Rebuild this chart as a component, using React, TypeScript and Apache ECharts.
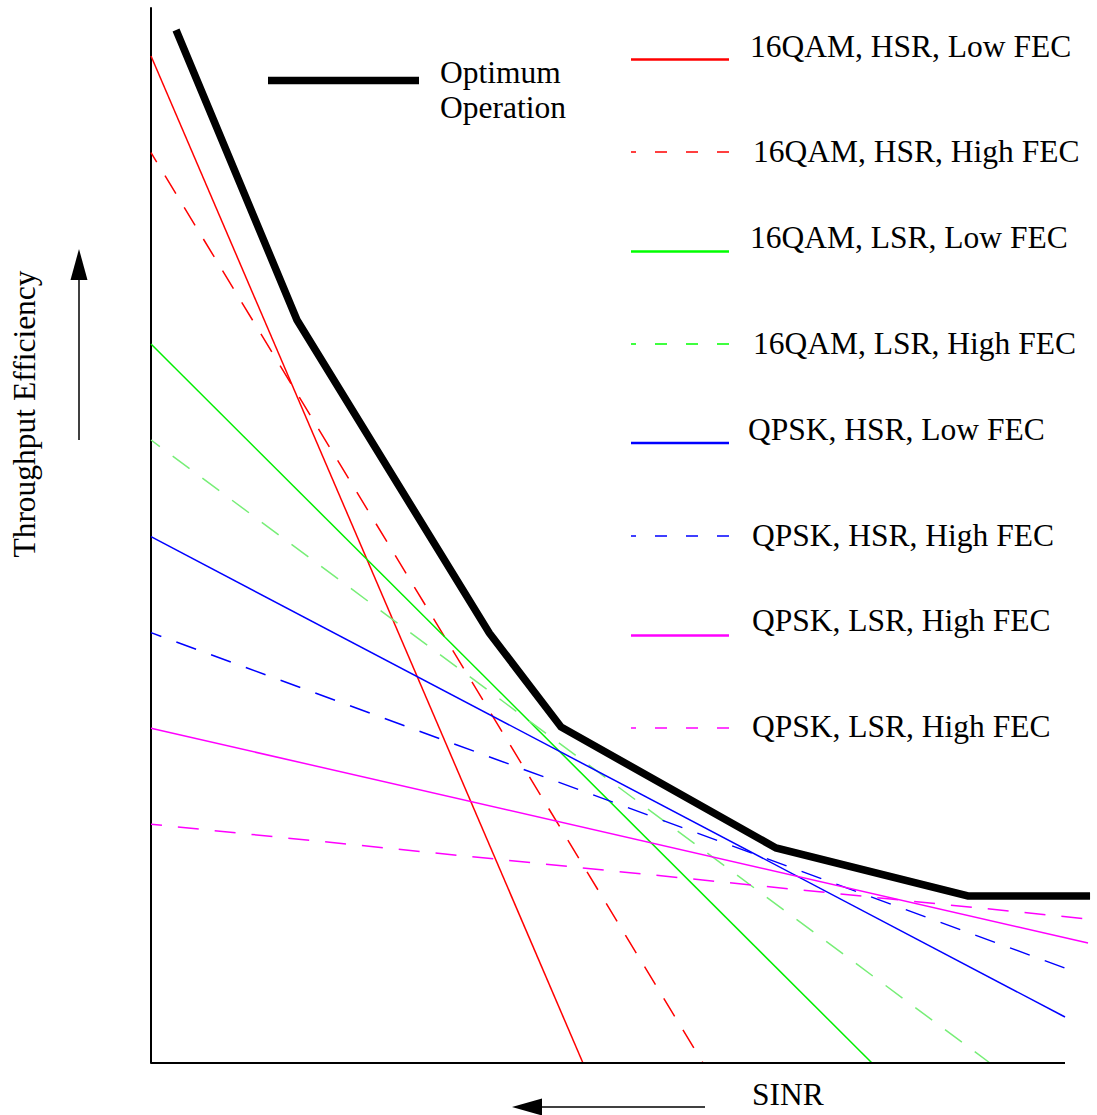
import { useEffect, useRef } from "react";
import * as echarts from "echarts";

// ---- data (abstract units: x 0..100 SINR, y 0..100 throughput efficiency) ----
const seriesNames = [
  "16QAM, HSR, Low FEC",
  "16QAM, HSR, High FEC",
  "16QAM, LSR, Low FEC",
  "16QAM, LSR, High FEC",
  "QPSK, HSR, Low FEC",
  "QPSK, HSR, High FEC",
  "QPSK, LSR, High FEC",
  "QPSK, LSR, High FEC",
];
const startY = [95.45, 86.29, 68.15, 59.05, 49.89, 40.79, 31.73, 22.63];
const endX = [47.26, 60.39, 78.88, 91.79, 100, 100, 102.52, 102.52];
const endY = [0, 0, 0, 0, 4.36, 9.0, 11.37, 13.65];

const optimumName = "Optimum Operation";
const optimumX = [2.74, 15.97, 37.01, 44.86, 68.38, 89.39, 102.74];
const optimumY = [97.91, 70.43, 40.76, 31.85, 20.38, 15.83, 15.83];

const axisXEnd = 100; // x axis line drawn from 0 to here
const xMax = 102.8; // drawing area extends a little past the axis end

const xAxisName = "SINR";
const yAxisName = "Throughput Efficiency";

// ---- styles ----
const lineColors = ["#ff0000", "#ff0000", "#00ff00", "#00ff00", "#0000ff", "#0000ff", "#ff00ff", "#ff00ff"];
const plotColors = ["#ff0000", "#ff0000", "#00ee00", "#77ee77", "#0000ff", "#0000ff", "#ff00ff", "#ff00ff"];
const dashed = [false, true, false, true, false, true, false, true];

const FONT = "'Liberation Serif', 'Times New Roman', serif";
const FS = 31.5;

const legendLineY = [59.5, 152, 251.5, 344, 443, 536, 635.5, 728];
const legendTextY = [46, 151, 237, 343, 429, 535, 620, 726];
const legendTextX = [750, 753, 750, 753, 748, 752, 752, 752];

export default function App() {
  const ref = useRef<HTMLDivElement>(null);

  useEffect(() => {
    document.body.style.margin = "0";
    if (!ref.current) return;
    const chart = echarts.init(ref.current, undefined, { renderer: "svg" });

    const series: any[] = seriesNames.map((name, i) => ({
      name,
      type: "line",
      data: [
        [0, startY[i]],
        [endX[i], endY[i]],
      ],
      symbol: "none",
      clip: false,
      silent: true,
      z: 2,
      lineStyle: {
        color: plotColors[i],
        width: 1.5,
        type: dashed[i] ? [21, 16] : "solid",
        dashOffset: dashed[i] ? 10 : 0,
      },
    }));
    // x axis line (0 .. axisXEnd)
    series.push({
      name: "x-axis",
      type: "line",
      data: [
        [0, 0],
        [axisXEnd, 0],
      ],
      symbol: "none",
      clip: false,
      silent: true,
      z: 4,
      lineStyle: { color: "#000", width: 2 },
    });
    series.push({
      name: optimumName,
      type: "line",
      data: optimumX.map((x, i) => [x, optimumY[i]]),
      symbol: "none",
      clip: false,
      silent: true,
      z: 5,
      lineStyle: { color: "#000", width: 7.5, cap: "butt", join: "miter" },
    });

    const graphic: any[] = [];
    seriesNames.forEach((name, i) => {
      graphic.push({
        type: "line",
        shape: { x1: 631, y1: legendLineY[i], x2: 729, y2: legendLineY[i] },
        style: {
          stroke: lineColors[i],
          lineWidth: dashed[i] ? 1.5 : 2.3,
          lineDash: dashed[i] ? [12, 19] : null,
          lineDashOffset: dashed[i] ? 7 : 0,
        },
      });
      graphic.push({
        type: "text",
        x: legendTextX[i],
        y: legendTextY[i],
        style: {
          text: name,
          font: `${FS}px ${FONT}`,
          fill: "#000",
          align: "left",
          verticalAlign: "middle",
        },
      });
    });
    // optimum legend
    graphic.push({
      type: "line",
      shape: { x1: 268, y1: 80.5, x2: 419, y2: 80.5 },
      style: { stroke: "#000", lineWidth: 7.5 },
    });
    const optWords = optimumName.split(" ");
    graphic.push({
      type: "text",
      x: 440,
      y: 72,
      style: { text: optWords[0], font: `${FS}px ${FONT}`, fill: "#000", align: "left", verticalAlign: "middle" },
    });
    graphic.push({
      type: "text",
      x: 440,
      y: 107,
      style: { text: optWords[1], font: `${FS}px ${FONT}`, fill: "#000", align: "left", verticalAlign: "middle" },
    });
    // y axis name + up arrow
    graphic.push({
      type: "text",
      x: 24,
      y: 414,
      rotation: Math.PI / 2,
      style: { text: yAxisName, font: `${FS}px ${FONT}`, fill: "#000", align: "center", verticalAlign: "middle" },
    });
    graphic.push({
      type: "line",
      shape: { x1: 79, y1: 440, x2: 79, y2: 276 },
      style: { stroke: "#000", lineWidth: 1.5 },
    });
    graphic.push({
      type: "polygon",
      shape: { points: [[79, 249], [70.5, 280], [87.5, 280]] },
      style: { fill: "#000" },
    });
    // x axis name + left arrow
    graphic.push({
      type: "text",
      x: 752,
      y: 1094,
      style: { text: xAxisName, font: `${FS}px ${FONT}`, fill: "#000", align: "left", verticalAlign: "middle" },
    });
    graphic.push({
      type: "line",
      shape: { x1: 705, y1: 1107, x2: 538, y2: 1107 },
      style: { stroke: "#000", lineWidth: 1.5 },
    });
    graphic.push({
      type: "polygon",
      shape: { points: [[512, 1107], [542, 1098.5], [542, 1115.5]] },
      style: { fill: "#000" },
    });

    chart.setOption({
      animation: false,
      backgroundColor: "#fff",
      grid: { left: 151, top: 8, width: 9.14 * xMax, height: 1055, containLabel: false },
      xAxis: {
        type: "value",
        min: 0,
        max: xMax,
        axisLine: { show: false },
        axisTick: { show: false },
        axisLabel: { show: false },
        splitLine: { show: false },
      },
      yAxis: {
        type: "value",
        min: 0,
        max: 100,
        axisLine: { show: true, onZero: false, lineStyle: { color: "#000", width: 2 } },
        axisTick: { show: false },
        axisLabel: { show: false },
        splitLine: { show: false },
      },
      series,
      graphic,
    });

    return () => chart.dispose();
  }, []);

  return <div ref={ref} style={{ width: 1097, height: 1115 }} />;
}
